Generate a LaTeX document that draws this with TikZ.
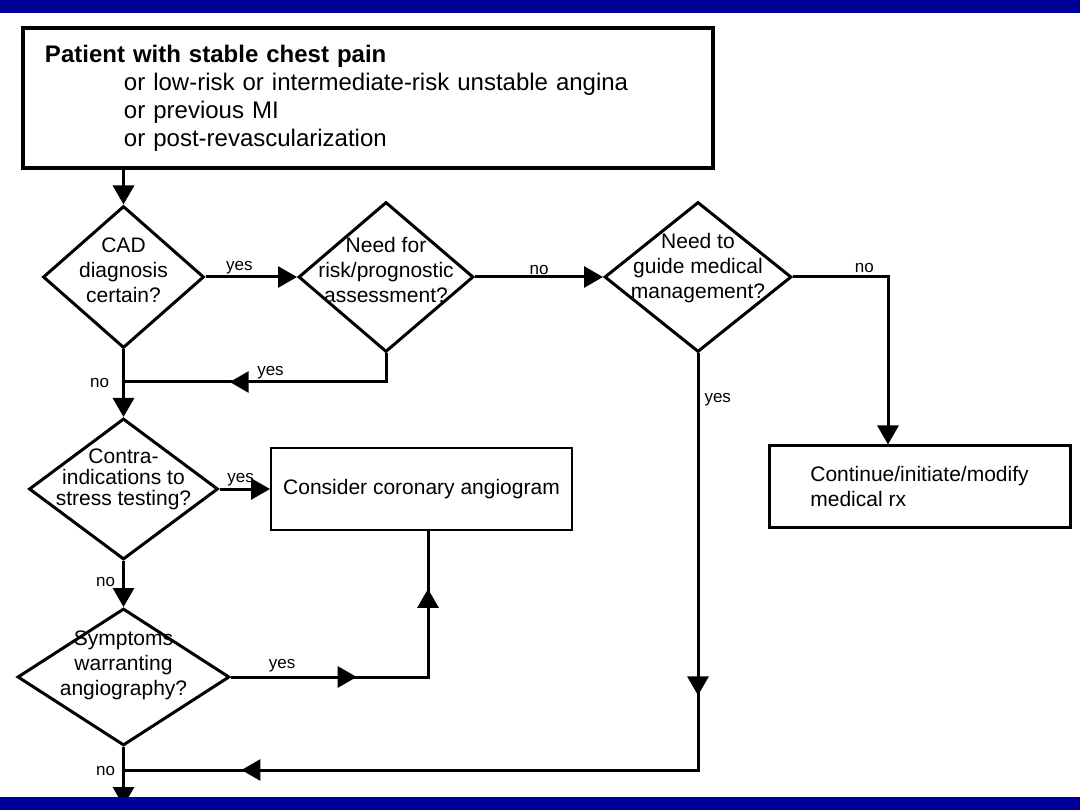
\documentclass[tikz,border=0pt]{standalone}
\usepackage{fontspec}
\setmainfont{Liberation Sans}
\usepackage{tikz}
\usetikzlibrary{shapes.geometric,arrows.meta,decorations.markings}
\definecolor{slideblue}{RGB}{0,0,153}

\begin{document}
\begin{tikzpicture}[x=1pt, y=-1pt, >={Triangle[length=19pt,width=21pt]},
    every path/.style={line width=3pt},
    box/.style={draw, rectangle, inner sep=0pt, font=\fontsize{21}{25}\selectfont},
    decision/.style={draw, diamond, line width=3pt, inner sep=0pt},
    dtext/.style={align=center, font=\fontsize{21}{25}\selectfont},
    lbl/.style={font=\fontsize{17}{19}\selectfont, inner sep=1pt},
    midarrow/.style={postaction={decorate, decoration={markings,
        mark=at position #1 with {\arrow{>}}}}}]
\useasboundingbox (0,0) rectangle (1080,810);

% entry box
\node[box, line width=3.5pt, minimum width=690pt, minimum height=140pt,
      text width=646pt, inner xsep=22pt, align=left,
      font=\fontsize{24}{28}\selectfont] (patient) at (368,98)
  {\textbf{Patient with stable chest pain}\\
   \hspace*{79pt}or low-risk or intermediate-risk unstable angina\\
   \hspace*{79pt}or previous MI\\
   \hspace*{79pt}or post-revascularization};

% decisions
\node[decision, minimum width=161pt, minimum height=142pt,
      label={[dtext, yshift=7pt]center:CAD\\diagnosis\\certain?}] (cad) at (123.5,277) {};
\node[decision, minimum width=175pt, minimum height=150pt,
      label={[dtext, yshift=7pt]center:Need for\\risk/prognostic\\assessment?}] (risk) at (386,277) {};
\node[decision, minimum width=187pt, minimum height=150pt,
      label={[dtext, yshift=9pt]center:Need to\\guide medical\\management?}] (guide) at (698,277) {};
\node[decision, minimum width=189pt, minimum height=141pt,
      label={[dtext, yshift=10pt, font=\fontsize{21}{21}\selectfont]center:Contra-\\indications to\\stress testing?}] (contra) at (123.5,489) {};
\node[decision, minimum width=212pt, minimum height=137pt,
      label={[dtext, yshift=12pt]center:Symptoms\\warranting\\angiography?}] (symp) at (123.5,677) {};

% outcomes
\node[box, line width=2pt, minimum width=301pt, minimum height=81pt] (angio) at (421.5,489)
  {Consider coronary angiogram};
\node[box, line width=3pt, minimum width=301pt, minimum height=81pt, align=left] (medrx) at (919.5,486.5)
  {Continue/initiate/modify\\medical rx};

% junctions
\coordinate (j1) at (123.5,382);
\coordinate (j2) at (123.5,770);
\coordinate (exit) at (123.5,806);
\coordinate (rxin) at ([xshift=-31.5pt]medrx.north);
\coordinate (angin) at ([xshift=6.5pt]angio.south);

% connectors
\draw[->] (patient.south -| cad.north) -- (cad.north);
\draw[->] (cad.east) -- node[lbl, above, pos=0.37] {yes} (risk.west);
\draw[->] (risk.east) -- node[lbl, above] {no} (guide.west);
\draw[->] (guide.east) -| node[lbl, above=2pt, pos=0.375] {no} (rxin);
\draw[midarrow=0.635] (risk.south) |- node[lbl, above, pos=0.72] {yes} (j1);
\draw[->] (cad.south) -- node[lbl, left=12pt, pos=0.49] {no} (contra.north);
\draw[->] (contra.east) -- node[lbl, above=0pt, pos=0.42] {yes} (angio.west);
\draw[->] (contra.south) -- node[lbl, left=6pt, pos=0.45] {no} (symp.north);
\draw[midarrow=0.366, midarrow=0.83] (symp.east) -| node[lbl, above=2pt, pos=0.13] {yes} (angin);
\draw[midarrow=0.345, midarrow=0.881] (guide.south) |- node[lbl, right=4pt, pos=0.055] {yes} (j2);
\draw[->] (symp.south) -- node[lbl, left=6pt, pos=0.41] {no} (exit);

% slide bands
\fill[slideblue] (0,0) rectangle (1080,13);
\fill[slideblue] (0,797) rectangle (1080,810);
\end{tikzpicture}
\end{document}
